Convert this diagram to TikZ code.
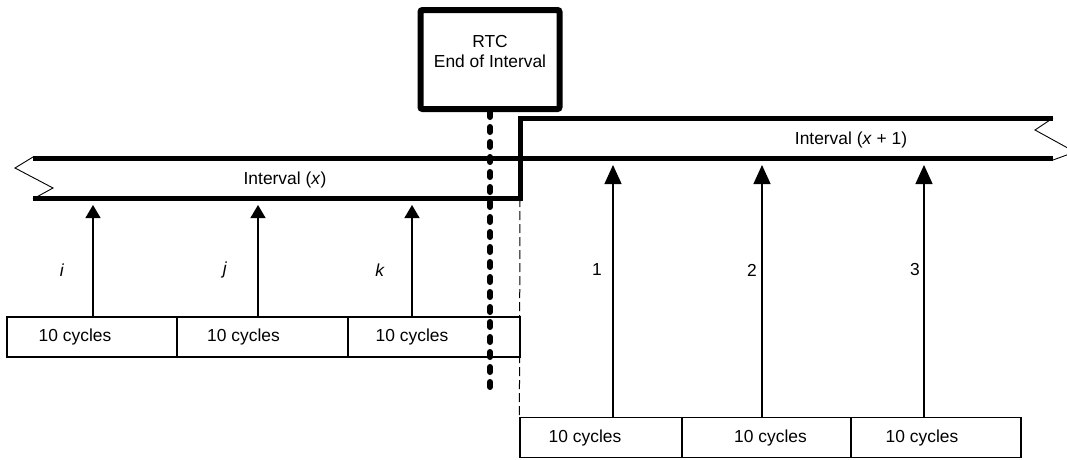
\documentclass[tikz,border=0pt]{standalone}
\usepackage{fontspec}
\setmainfont{Liberation Sans}
\usetikzlibrary{positioning,arrows.meta}

\begin{document}
\begin{tikzpicture}[x=1pt, y=-1pt, every node/.style={font=\fontsize{17.4}{20}\selectfont, inner sep=0pt}, cyc/.style={draw, line width=1.2pt, minimum height=40pt}, band/.style={line width=5pt}, zig/.style={line width=0.9pt}, tick/.style={line width=1.3pt}, >={Triangle[length=13pt,width=15pt]}]
\useasboundingbox (0,0) rectangle (1067,459);
\node (rtc) [draw, line width=6pt, rounded corners=2pt, minimum width=139pt, minimum height=99pt, label={[align=center, yshift=7.5pt]center:RTC\\End of Interval}] at (490,59.5) {};
\draw[band] (33,158.5) -- (1053,158.5);
\draw[band] (33,198) -- (520,198) coordinate (step) -- (520,118) -- (1053,118);
\draw[zig] (33,157) -- (15,168) -- (53,188) -- (33,199);
\draw[zig] (1053,118) -- (1035,130) -- (1075,152) -- (1053,160);
\node (ivx) at (285,180) {Interval (\textit{x})};
\node (ivx1) at (851,140) {Interval (\textit{x} + 1)};
\foreach \n/\cx/\w/\dx in {l1/92/170/-17, l2/262.5/171/-19, l3/434/172/-22}
  \node[cyc, minimum width=\w pt, label={[xshift=\dx pt]center:10 cycles}] (\n) at (\cx,337) {};
\foreach \n/\cx/\w/\dx in {r1/601/162/-16, r2/766.5/169/4, r3/936/170/-14}
  \node[cyc, minimum width=\w pt, label={[xshift=\dx pt]center:10 cycles}] (\n) at (\cx,437.5) {};
\foreach \n/\ax/\lx/\lab in {l1/93/62/i, l2/258/225/j, l3/412/380/k} {
  \coordinate (t\n) at (\ax,205);
  \draw[tick, ->] (t\n |- \n.north) -- (t\n);
  \node (lab\n) at (\lx,270) {\textit{\lab}};
}
\foreach \n/\ax/\lx/\lab in {r1/613/597/1, r2/762/752/2, r3/924/915/3} {
  \coordinate (t\n) at (\ax,165);
  \draw[tick, -{Triangle[length=19pt,width=17pt]}] (t\n |- \n.north) -- (t\n);
  \node (lab\n) at (\lx,270) {\lab};
}
\coordinate (rtcend) at (490,394);
\draw[line width=6pt, line cap=round, dash pattern=on 5pt off 10pt] (rtc.south) -- (rtcend);
\draw[line width=1pt, dash pattern=on 9pt off 4pt] (step) -- (r1.north west);
\end{tikzpicture}
\end{document}
